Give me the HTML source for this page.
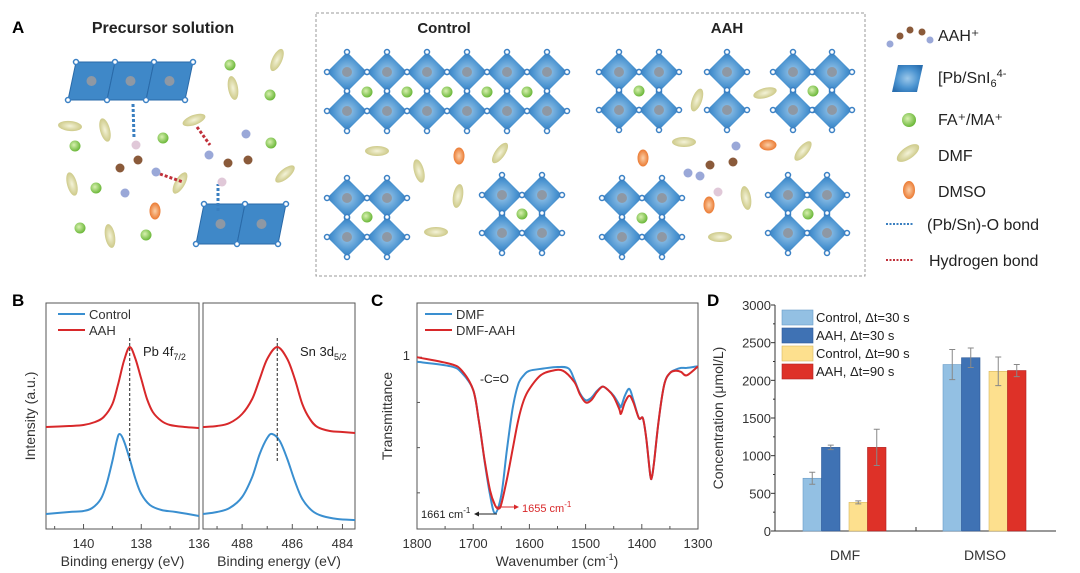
<!DOCTYPE html>
<html><head><meta charset="utf-8">
<style>
html,body{margin:0;padding:0;background:#fff;}
svg{display:block;font-family:"Liberation Sans",Arial,sans-serif;}
</style></head>
<body>
<svg id="fig" width="1080" height="573" viewBox="0 0 1080 573" xmlns="http://www.w3.org/2000/svg">
<defs>
<radialGradient id="octG" cx="50%" cy="50%" r="60%"><stop offset="0" stop-color="#9cc8ea"/><stop offset="0.6" stop-color="#4a93d0"/><stop offset="1" stop-color="#2a6fb0"/></radialGradient>
<radialGradient id="greenG" cx="40%" cy="40%" r="60%"><stop offset="0" stop-color="#d8f0b0"/><stop offset="1" stop-color="#6cb83a"/></radialGradient>
<radialGradient id="dmfG" cx="50%" cy="50%" r="60%"><stop offset="0" stop-color="#f4f3d8"/><stop offset="1" stop-color="#c6c27a"/></radialGradient>
<radialGradient id="dmsoG" cx="50%" cy="50%" r="60%"><stop offset="0" stop-color="#fbd0a8"/><stop offset="1" stop-color="#e86a1c"/></radialGradient>
</defs>

<g id="panelA">
<text x="12" y="33" font-size="17" font-weight="bold">A</text>
<text x="163" y="33" font-size="16" font-weight="bold" text-anchor="middle" fill="#222">Precursor solution</text>
<rect x="316" y="13" width="549" height="263" fill="none" stroke="#999" stroke-dasharray="3,2"/>
<text x="444" y="33" font-size="15" font-weight="bold" text-anchor="middle" fill="#222">Control</text>
<text x="727" y="33" font-size="15" font-weight="bold" text-anchor="middle" fill="#222">AAH</text>
<g id="octs"></g>
<g id="mols"></g>
<g font-size="16" fill="#222">
<text x="938" y="41">AAH⁺</text>
<text x="938" y="83">[Pb/SnI<tspan font-size="11" dy="4">6</tspan><tspan dy="-10" font-size="11">4-</tspan></text>
<text x="938" y="125">FA⁺/MA⁺</text>
<text x="938" y="161">DMF</text>
<text x="938" y="197">DMSO</text>
<text x="927" y="230">(Pb/Sn)-O bond</text>
<text x="929" y="266">Hydrogen bond</text>
<line x1="886" y1="224" x2="914" y2="224" stroke="#3a7fc0" stroke-width="2" stroke-dasharray="2,1.5"/>
<line x1="886" y1="260" x2="914" y2="260" stroke="#c0303a" stroke-width="2" stroke-dasharray="2,1.5"/>
<polygon points="898,65 923,65 917,92 892,92" fill="url(#octG)"/>
<circle cx="909" cy="120" r="7" fill="url(#greenG)"/>
<ellipse cx="908" cy="153" rx="13" ry="6" fill="url(#dmfG)" transform="rotate(-35 908 153)"/>
<ellipse cx="909" cy="190" rx="6" ry="9" fill="url(#dmsoG)"/>
</g>
</g>

<g id="panelB">
<text x="12" y="306" font-size="17" font-weight="bold">B</text>
</g>
<g id="panelC">
<text x="371" y="306" font-size="17" font-weight="bold">C</text>
</g>
<g id="panelD">
<text x="707" y="306" font-size="17" font-weight="bold">D</text>
</g>
</svg>

<script>
// ===== Panel B data =====
const pbBE = [141.3,140.5,140,139.6,139.3,139.0,138.8,138.6,138.4,138.2,138.0,137.8,137.6,137.3,137.0,136.5,136];
const pbAAH = [102,103,104,107,112,125,145,168,182,170,150,130,117,108,104,102,101];
const pbCtrlBE = [141.3,140.5,140,139.7,139.4,139.2,139.0,138.85,138.75,138.6,138.4,138.2,138.0,137.7,137.3,136.8,136];
const pbCtrl = [15,17,18,21,30,45,68,88,95,88,70,50,35,24,19,17,13];
const snBE = [489.56,489,488.5,488,487.6,487.3,487.0,486.6,486.2,485.9,485.6,485.3,485.0,484.5,484,483.5];
const snAAH = [102,103,106,115,130,150,170,182,170,150,125,110,102,98,97,96];
const snCtrlBE = [489.56,489,488.5,488,487.6,487.3,487.0,486.8,486.5,486.2,485.9,485.6,485.2,484.8,484.2,483.5];
const snCtrl = [15,17,21,32,52,75,91,95,88,70,48,30,18,13,10,9];
const pbTicks = [140,138,136];
const snTicks = [488,486,484];

// ===== Panel C data =====
const irDmfWN = [1800,1740,1720,1700,1690,1680,1670,1661,1650,1640,1630,1620,1610,1600,1575,1550,1530,1520,1510,1500,1490,1480,1470,1460,1450,1440,1437,1430,1422,1415,1405,1398,1392,1385,1382,1378,1370,1360,1350,1340,1330,1320,1300];
const irDmfT = [0.98,0.96,0.93,0.855,0.72,0.545,0.39,0.31,0.39,0.59,0.77,0.88,0.92,0.94,0.95,0.957,0.95,0.90,0.84,0.81,0.82,0.85,0.87,0.855,0.83,0.79,0.78,0.83,0.86,0.81,0.73,0.73,0.64,0.48,0.47,0.54,0.72,0.88,0.93,0.945,0.953,0.953,0.96];
const irAahWN = [1800,1740,1720,1700,1690,1680,1670,1661,1655,1650,1640,1630,1620,1610,1600,1580,1560,1540,1520,1510,1500,1490,1480,1470,1460,1450,1440,1437,1430,1422,1415,1405,1398,1392,1385,1382,1378,1370,1360,1350,1340,1330,1320,1300];
const irAahT = [1.0,0.97,0.94,0.855,0.72,0.55,0.41,0.345,0.33,0.35,0.46,0.59,0.72,0.81,0.86,0.92,0.94,0.94,0.89,0.835,0.80,0.81,0.845,0.87,0.855,0.825,0.77,0.75,0.80,0.83,0.80,0.73,0.73,0.64,0.48,0.47,0.54,0.72,0.88,0.93,0.94,0.935,0.92,0.96];
const irTicks = [1800,1700,1600,1500,1400,1300];

// ===== Panel D data =====
const dCategories = ["DMF","DMSO"];
const dSeries = ["Control, Δt=30 s","AAH, Δt=30 s","Control, Δt=90 s","AAH, Δt=90 s"];
const dCtrl30 = [700,2210];
const dAah30 = [1110,2300];
const dCtrl90 = [380,2120];
const dAah90 = [1110,2130];
const dErrCtrl30 = [80,200];
const dErrAah30 = [30,130];
const dErrCtrl90 = [20,190];
const dErrAah90 = [240,80];
const dTicks = [0,500,1000,1500,2000,2500,3000];

const NS="http://www.w3.org/2000/svg";
function mk(tag, attrs, parent){const e=document.createElementNS(NS,tag);for(const k in attrs)e.setAttribute(k,attrs[k]);if(parent)parent.appendChild(e);return e;}
function txt(parent,x,y,s,size,anchor,fill){const t=mk('text',{x:x,y:y,'font-size':size,'text-anchor':anchor||'start',fill:fill||'#333'},parent);t.textContent=s;return t;}
function smooth(pts){
  let d='M'+pts[0][0].toFixed(1)+','+pts[0][1].toFixed(1);
  for(let i=0;i<pts.length-1;i++){
    const p0=pts[Math.max(i-1,0)],p1=pts[i],p2=pts[i+1],p3=pts[Math.min(i+2,pts.length-1)];
    const c1x=p1[0]+(p2[0]-p0[0])/6,c1y=p1[1]+(p2[1]-p0[1])/6;
    const c2x=p2[0]-(p3[0]-p1[0])/6,c2y=p2[1]-(p3[1]-p1[1])/6;
    d+=`C${c1x.toFixed(1)},${c1y.toFixed(1)} ${c2x.toFixed(1)},${c2y.toFixed(1)} ${p2[0].toFixed(1)},${p2[1].toFixed(1)}`;
  }
  return d;
}

const BLUE="#3a8fd0", RED="#d8282a";

// ---------- Panel A ----------
const octs=document.getElementById('octs');
function oct(cx,cy){
  const g=mk('g',{},octs);
  
  
  const r=20;
  mk('polygon',{points:`${cx},${cy-r} ${cx+r},${cy} ${cx},${cy+r} ${cx-r},${cy}`,fill:'url(#octG)'},g);
  mk('circle',{cx:cx,cy:cy,r:5,fill:'#8e98a4'},g);
  [[0,-r],[r,0],[0,r],[-r,0]].forEach(p=>mk('circle',{cx:cx+p[0],cy:cy+p[1],r:2.5,fill:'#fff',stroke:'#3a80c4','stroke-width':1.5},g));
}
function green(cx,cy){const c=mk('circle',{cx:cx,cy:cy,r:5.5,fill:'url(#greenG)'},octs);}
function dmf(cx,cy,rot){const e=mk('ellipse',{cx:cx,cy:cy,rx:12,ry:5,fill:'url(#dmfG)',transform:`rotate(${rot} ${cx} ${cy})`},octs);}
function dmso(cx,cy,rot){const e=mk('ellipse',{cx:cx,cy:cy,rx:5.5,ry:8.5,fill:'url(#dmsoG)',transform:`rotate(${rot||0} ${cx} ${cy})`},octs);}
for(let i=0;i<6;i++){oct(347+i*40,72);oct(347+i*40,111);}
for(let i=0;i<5;i++)green(367+i*40,92);
oct(347,198);oct(387,198);oct(347,237);oct(387,237);green(367,217);
oct(502,195);oct(542,195);oct(502,233);oct(542,233);green(522,214);
dmf(377,151,0);dmf(419,171,75);dmf(458,196,-80);dmf(436,232,0);dmf(500,153,-55);dmso(459,156);
oct(619,72);oct(659,72);oct(619,110);oct(659,110);green(639,91);
oct(727,72);oct(727,110);
oct(793,72);oct(832,72);oct(793,110);oct(832,110);green(813,91);
oct(622,198);oct(662,198);oct(622,237);oct(662,237);green(642,218);
oct(788,195);oct(827,195);oct(788,233);oct(827,233);green(808,214);
dmf(697,100,-70);dmf(765,93,-15);dmf(684,142,0);dmf(803,151,-50);dmf(746,198,80);dmf(720,237,0);
dmso(643,158);dmso(768,145,90);dmso(709,205);
function slab(x,y,n,w,h,sk){
  const g=mk('g',{},octs);
  
  
  for(let i=0;i<n;i++){const x0=x+i*w;
    mk('polygon',{points:`${x0+sk},${y} ${x0+w+sk},${y} ${x0+w},${y+h} ${x0},${y+h}`,fill:'#3f88c8',stroke:'#2a6aa8'},g);
    mk('circle',{cx:x0+w/2+sk/2,cy:y+h/2,r:5,fill:'#8e98a4'},g);}
  for(let i=0;i<=n;i++){mk('circle',{cx:x+i*w+sk,cy:y,r:2.5,fill:'#fff',stroke:'#3a80c4','stroke-width':1.5},g);mk('circle',{cx:x+i*w,cy:y+h,r:2.5,fill:'#fff',stroke:'#3a80c4','stroke-width':1.5},g);}
}
slab(68,62,3,39,38,8);slab(196,204,2,41,40,8);
green(230,65);green(270,95);green(75,146);green(163,138);green(271,143);green(96,188);green(80,228);green(146,235);
dmf(70,126,5);dmf(105,130,75);dmf(277,60,-65);dmf(233,88,80);dmf(194,120,-20);dmf(72,184,75);dmf(180,183,-60);dmf(285,174,-40);dmf(110,236,80);
dmso(155,211);
const mols=document.getElementById('mols');
function ball(cx,cy,r,c){mk('circle',{cx:cx,cy:cy,r:r,fill:c},mols);}
mk('line',{x1:133,y1:104,x2:134,y2:138,stroke:'#3a7fc0','stroke-width':3,'stroke-dasharray':'3,2'},mols);
mk('line',{x1:218,y1:211,x2:218,y2:184,stroke:'#3a7fc0','stroke-width':3,'stroke-dasharray':'3,2'},mols);
mk('line',{x1:160,y1:174,x2:183,y2:182,stroke:'#c0303a','stroke-width':3,'stroke-dasharray':'3,2'},mols);
mk('line',{x1:197,y1:127,x2:210,y2:145,stroke:'#c0303a','stroke-width':3,'stroke-dasharray':'3,2'},mols);
[[136,145],[138,160],[120,168],[125,193],[156,172],[209,155],[228,163],[248,160],[246,134],[222,182]].forEach((p,i)=>{
  const cols=['#e0c8d8','#8a5a3a','#8a5a3a','#9aa8d8','#9aa8d8','#9aa8d8','#8a5a3a','#8a5a3a','#9aa8d8','#e0c8d8'];
  ball(p[0],p[1],4.5,cols[i]);});
[[710,165],[700,176],[688,173],[733,162],[736,146],[718,192]].forEach((p,i)=>ball(p[0],p[1],4.5,['#8a5a3a','#9aa8d8','#9aa8d8','#8a5a3a','#9aa8d8','#e0c8d8'][i]));
[[900,36],[910,30],[922,32],[930,40],[890,44]].forEach((p,i)=>ball(p[0],p[1],3.5,['#8a5a3a','#8a5a3a','#8a5a3a','#9aa8d8','#9aa8d8'][i]));

// ---------- Panel B ----------
const pB=document.getElementById('panelB');
const bTop=303,bBot=529;
const bY=v=>bBot - v;
function xpsPanel(x0,x1,d0,d1,ticks,minor,series,label,name,vline){
  const sx=v=>x0+(d0-v)/(d0-d1)*(x1-x0);
  const g=mk('g',{},pB);
  
  
  mk('rect',{x:x0,y:bTop,width:x1-x0,height:bBot-bTop,fill:'none',stroke:'#555','stroke-width':1},g);
  ticks.forEach(t=>{mk('line',{x1:sx(t),y1:bBot,x2:sx(t),y2:bBot-5,stroke:'#555'},g);
    const l=txt(g,sx(t),548,String(t),13,'middle');});
  minor.forEach(t=>mk('line',{x1:sx(t),y1:bBot,x2:sx(t),y2:bBot-3,stroke:'#555'},g));
  series.forEach(s=>{
    const p=mk('path',{d:smooth(s.x.map((v,i)=>[sx(v),bY(s.y[i])])),fill:'none',stroke:s.c,'stroke-width':2,'stroke-linejoin':'round'},g);
    
    
  });
  mk('line',{x1:sx(vline),y1:338,x2:sx(vline),y2:462,stroke:'#222','stroke-dasharray':'3,2'},g);
  const at=txt(g,0,0,'',13,'start','#222');
  at.setAttribute('x',x0+97);at.setAttribute('y',356);
  at.innerHTML=label;
  
  
  const xt=txt(g,(x0+x1)/2,566,'Binding energy (eV)',14,'middle');
  
}
xpsPanel(46,199,141.3,136,pbTicks,[141,139,137],[{x:pbBE,y:pbAAH,c:RED,n:'pb-aah-line'},{x:pbCtrlBE,y:pbCtrl,c:BLUE,n:'pb-control-line'}],'Pb 4f<tspan font-size="9" dy="4">7/2</tspan>','pb-4f-subpanel',138.4);
xpsPanel(203,355,489.56,483.5,snTicks,[489,487,485],[{x:snBE,y:snAAH,c:RED,n:'sn-aah-line'},{x:snCtrlBE,y:snCtrl,c:BLUE,n:'sn-control-line'}],'Sn 3d<tspan font-size="9" dy="4">5/2</tspan>','sn-3d-subpanel',486.6);
{const t=txt(pB,0,0,'Intensity (a.u.)',14,'middle');t.setAttribute('transform','translate(35,416) rotate(-90)');
 mk('line',{x1:58,y1:314,x2:85,y2:314,stroke:BLUE,'stroke-width':2},pB);mk('line',{x1:58,y1:330,x2:85,y2:330,stroke:RED,'stroke-width':2},pB);
 const l1=txt(pB,89,319,'Control',13,'start');
 const l2=txt(pB,89,335,'AAH',13,'start');}

// ---------- Panel C ----------
const pC=document.getElementById('panelC');
const cx0=417,cx1=698,cTop=303,cBot=529,tMin=0.24,tMax=1.24;
const cX=v=>cx0+(1800-v)/500*(cx1-cx0);
const cY=v=>cTop+(tMax-v)/(tMax-tMin)*(cBot-cTop);
mk('rect',{x:cx0,y:cTop,width:cx1-cx0,height:cBot-cTop,fill:'none',stroke:'#555'},pC);
irTicks.forEach(t=>{mk('line',{x1:cX(t),y1:cBot,x2:cX(t),y2:cBot-5,stroke:'#555'},pC);
  const l=txt(pC,cX(t),548,String(t),13,'middle');});
for(let t=1750;t>1300;t-=100)mk('line',{x1:cX(t),y1:cBot,x2:cX(t),y2:cBot-3,stroke:'#555'},pC);
[1.0,0.8,0.6,0.4].forEach((t,i)=>mk('line',{x1:cx0,y1:cY(t),x2:cx0+(i==0?5:3),y2:cY(t),stroke:'#555'},pC));
{const l=txt(pC,410,360,'1',13,'end');}
[{x:irDmfWN,y:irDmfT,c:BLUE,n:'dmf-line'},{x:irAahWN,y:irAahT,c:RED,n:'dmf-aah-line'}].forEach(s=>{
  const p=mk('path',{d:smooth(s.x.map((v,i)=>[cX(v),cY(s.y[i])])),fill:'none',stroke:s.c,'stroke-width':2,'stroke-linejoin':'round'},pC);
  
  
});
mk('line',{x1:425,y1:314,x2:452,y2:314,stroke:BLUE,'stroke-width':2},pC);mk('line',{x1:425,y1:330,x2:452,y2:330,stroke:RED,'stroke-width':2},pC);
{const a=txt(pC,456,319,'DMF',13);
 const b=txt(pC,456,335,'DMF-AAH',13);
 const c=txt(pC,480,383,'-C=O',12,'start','#222');
 const d=txt(pC,421,518,'',11,'start','#222');d.innerHTML='1661 cm<tspan font-size="8" dy="-5">-1</tspan>';
 const e=txt(pC,522,512,'',11,'start',RED);e.innerHTML='1655 cm<tspan font-size="8" dy="-5">-1</tspan>';
 mk('line',{x1:497,y1:514,x2:477,y2:514,stroke:'#222'},pC);mk('polygon',{points:'474,514 479,511.5 479,516.5',fill:'#222'},pC);
 mk('line',{x1:497,y1:507,x2:515,y2:507,stroke:RED},pC);mk('polygon',{points:'519,507 514,504.5 514,509.5',fill:RED},pC);
 const xt=txt(pC,557,566,'',14,'middle');xt.innerHTML='Wavenumber (cm<tspan font-size="9" dy="-6">-1</tspan><tspan dy="6">)</tspan>';
 const yt=txt(pC,0,0,'Transmittance',14,'middle');yt.setAttribute('transform','translate(392,416) rotate(-90)');}

// ---------- Panel D ----------
const pD=document.getElementById('panelD');
const dx0=775,dx1=1056,dTop=305,dBot=531;
const dY=v=>dBot-v/3000*(dBot-dTop);
const groupCenter=[845,985];
const barW=18.5;
const seriesVals=[dCtrl30,dAah30,dCtrl90,dAah90];
const seriesErr=[dErrCtrl30,dErrAah30,dErrCtrl90,dErrAah90];
const seriesCol=["#93c0e3","#3f72b4","#fde08e","#de3128"];
const seriesStroke=["#6a9cc8","#2d5a98","#d8b860","#b02020"];
const offsets=[-42,-23.5,4,22.5];
mk('line',{x1:dx0,y1:dTop,x2:dx0,y2:dBot,stroke:'#333'},pD);
mk('line',{x1:dx0,y1:dBot,x2:dx1,y2:dBot,stroke:'#333'},pD);
dTicks.forEach(t=>{mk('line',{x1:dx0,y1:dY(t),x2:dx0-4,y2:dY(t),stroke:'#333'},pD);
  const l=txt(pD,771,dY(t)+5,String(t),13,'end');});
for(let t=250;t<3000;t+=500)mk('line',{x1:dx0,y1:dY(t),x2:dx0-2,y2:dY(t),stroke:'#333'},pD);
[822,868,916,962,1009].forEach(x=>mk('line',{x1:x,y1:dBot,x2:x,y2:dBot-4,stroke:'#333'},pD));
dCategories.forEach((c,ci)=>{
  seriesVals.forEach((arr,si)=>{
    const x=groupCenter[ci]+offsets[si];
    const v=arr[ci];
    const r=mk('rect',{x:x,y:dY(v),width:barW,height:dBot-dY(v),fill:seriesCol[si],stroke:seriesStroke[si],'stroke-width':0.6},pD);
    
    
    const e=seriesErr[si][ci], xm=x+barW/2;
    const eb=mk('path',{d:`M${xm},${dY(v+e)}V${dY(v-e)}M${xm-3},${dY(v+e)}H${xm+3}M${xm-3},${dY(v-e)}H${xm+3}`,stroke:'#888','stroke-width':1,fill:'none'},pD);
    
    
  });
  const l=txt(pD,groupCenter[ci],560,c,14,'middle');
  
  
});
dSeries.forEach((s,si)=>{
  const y=310+si*18;
  const sw=mk('rect',{x:782,y:y,width:31,height:15,fill:seriesCol[si],stroke:seriesStroke[si],'stroke-width':0.6},pD);
  
  
  const t=txt(pD,816,y+12,s,13,'start','#222');
  
  
});
{const yt=txt(pD,0,0,'Concentration (μmol/L)',14,'middle');yt.setAttribute('transform','translate(723,418) rotate(-90)');}
</script>
</body></html>
